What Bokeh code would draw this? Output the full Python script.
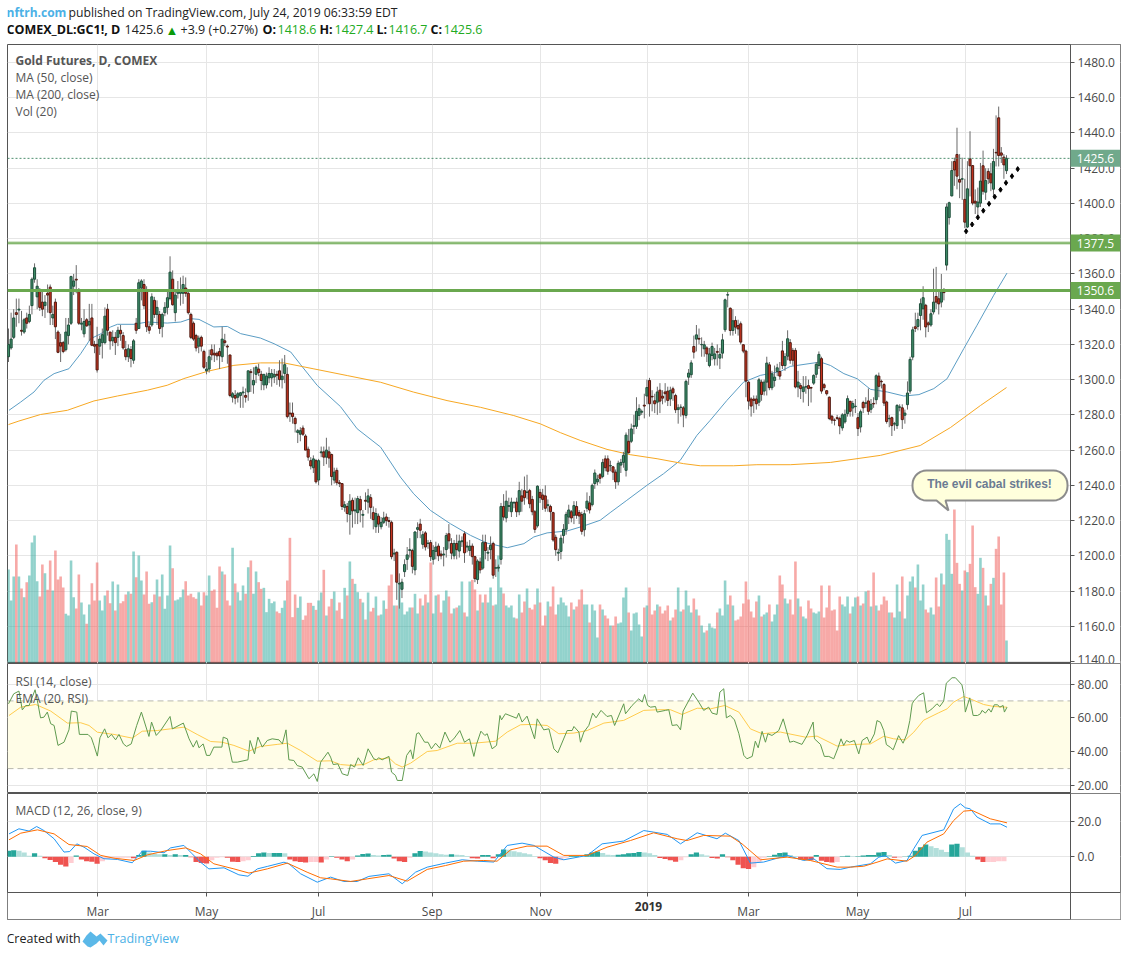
import numpy as np
from bokeh.plotting import figure
from bokeh.layouts import column
from bokeh.models import (Range1d, FixedTicker, Span, BoxAnnotation, Label,
                          PolyAnnotation, NumeralTickFormatter)
from bokeh.embed import file_html
from bokeh.resources import INLINE

# ---- daily bars, open / high / low / close
bars_jan_feb = [
 (1313,1329,1310,1320),(1318,1338,1317,1323),(1324,1340,1323,1335),(1338,1346,1330,1337),(1339.5,1346,1332,1340),
 (1328,1339,1325,1327.5),(1327,1335,1326,1334),(1335,1338,1329,1332),(1333,1342,1332,1337),(1342,1358,1337,1357),
 (1357,1366,1355,1363.5),(1347,1357,1340,1353),(1350,1352,1339,1341),(1344,1350,1336,1340),(1342,1348,1335,1344),
 (1349,1354,1338,1348),(1352.5,1354,1331,1338),(1335,1342,1331,1337),(1344,1346,1323,1330),(1327,1328,1315,1315.5),
 (1321,1326,1310,1319),(1321,1322,1315,1316),(1317,1335,1316,1327),(1325,1335,1320,1331),(1332,1359,1331,1358.5),
 (1353,1360,1348,1356),(1357,1365,1349,1356.5),(1350,1352,1331,1332),(1331.5,1335,1328,1332),(1326,1340,1324,1333),
 (1334,1335,1330,1330.5),(1331,1343,1322,1333),(1335,1343,1319,1319.5),(1320,1322,1315,1319)]
bars_mar_apr = [
 (1320,1330,1304,1305.5),(1319,1325,1314,1323),(1321,1329,1312,1325.5),(1321,1341,1320,1336),(1340,1343,1325,1328),
 (1327,1327,1317,1322),(1322,1328,1319,1324),(1324,1327,1314,1321),(1324,1330,1319,1328),(1328,1331,1322,1326),
 (1325,1327,1317,1318),(1317,1322,1311,1313),(1313,1320,1310,1317.5),(1317,1319,1307,1312),(1311,1323,1309,1322),
 (1332,1335,1326,1328),(1329,1357,1329,1355),(1352,1357,1345,1356),(1354,1357,1340,1342),(1350,1353,1327,1330),
 (1330,1332,1326,1328),(1331,1349,1330,1347),(1345,1347,1335,1337),(1337,1345,1331,1341),(1337,1339,1326,1329),
 (1330,1338,1324,1337),(1338,1344,1336,1341),(1341,1350,1337,1346.5),(1346,1370,1345,1361),(1357,1362,1342,1342.5),
 (1338,1351,1333,1348),(1349,1356,1346,1351),(1349,1358,1342,1350),(1349,1359,1343,1354),(1352,1358,1347,1349),
 (1349,1350,1337,1338),(1337,1338,1323,1324),(1332,1333,1322,1323),(1325,1326,1316,1318),(1319,1325,1315,1323.5),
 (1324,1325,1316,1319),(1316,1317,1306,1307)]
bars_may_jun = [
 (1305,1310,1303,1306),(1306,1317,1304,1313),(1317,1320,1311,1314),(1315,1320,1310,1314),(1315,1316,1311,1313.5),
 (1316,1318,1306,1313.5),(1313,1330,1310,1323),(1322,1326,1319,1321),(1319,1320,1309,1318.5),(1314,1314,1290,1291),
 (1290,1293,1287,1292),(1291,1294,1286,1289.5),(1290,1293,1287,1292),(1291,1293,1284,1292.5),(1292.5,1296,1284,1293),
 (1291,1295,1287,1290),(1293,1305,1288,1305),(1304.5,1306,1293,1304),(1297,1307,1292,1299.5),(1303,1308,1298,1307),
 (1306,1309,1302,1304),(1303,1305,1294,1299.5),(1297,1303,1294,1303),(1297,1304,1295,1302),(1301,1307,1298,1303.5),
 (1301,1306,1296,1303.5),(1301.5,1306,1298,1303),(1303,1305,1297,1302.5),(1305,1311,1296,1300),(1300,1312,1295,1302),
 (1303.5,1314,1298,1308.5),(1303,1307,1278,1279),(1281,1287,1276,1280.5),(1281,1287,1275,1279),(1278,1279,1270,1275),
 (1270,1272,1264,1271),(1269,1273,1265,1271),(1272.5,1274,1268,1269),(1268,1269,1260,1260),(1260.5,1262,1254,1256),
 (1254,1256,1249,1251),(1250,1257,1247,1255),(1254,1255,1241,1242)]
bars_jul_aug = [
 (1243,1255,1240,1254),(1258.5,1262,1256,1259),(1259,1262,1251,1256),(1256,1267,1252,1260),(1259,1262,1250,1255.5),
 (1257.5,1258,1240,1245),(1243,1250,1241,1247.5),(1248.5,1250,1240,1241.5),(1241.5,1243,1239,1241),(1241,1241,1226,1228),
 (1227.5,1231,1225,1229),(1228,1230,1219,1224),(1223.5,1235,1212,1231),(1231.5,1233,1216,1225.5),(1225.5,1233,1218,1226),
 (1224.5,1234,1218,1232.5),(1232,1234,1219,1226),(1223,1226,1216,1223.5),(1231.5,1236,1226,1231),(1230.5,1238,1224,1234),
 (1233,1235,1221,1227.5),(1224.5,1228,1215,1220.5),(1216.5,1227,1213,1224),(1222.5,1224,1213,1218),(1216.5,1222,1215,1219),
 (1219,1225,1218,1221.5),(1222,1224,1217,1220),(1220,1222,1216,1219.5),(1219,1220,1198,1199.5),(1201,1204,1197,1201.5),
 (1202,1202.5,1175,1185),(1184,1190,1170,1184.5),(1181,1187,1176,1185),(1191,1198,1188,1195),(1198,1205,1192,1200.5),
 (1203,1210,1199,1203.5),(1203,1204,1190,1194),(1192,1214,1189,1213.5),(1215,1219,1210,1216),(1218,1221,1210,1214.5),
 (1206.5,1214,1204,1212),(1213,1214,1203,1205),(1207,1209,1204,1207.2),(1207.5,1209,1197,1199.5)]
bars_sep_oct = [
 (1198,1206,1195,1203),(1202.5,1208,1198,1205),(1205.5,1207,1197,1200),(1201,1203,1198,1200),(1200.5,1205,1194,1201),
 (1203.5,1213,1199,1211.5),(1212.5,1218,1204,1208.5),(1207,1210,1198,1201.5),(1200,1209,1198,1207),(1207,1212,1198,1203.5),
 (1202.7,1212,1199,1208.3),(1208,1211,1205,1208.5),(1212.5,1214,1196,1201.7),(1205,1208,1202,1205.5),(1203,1209,1200,1205.5),
 (1205.5,1207,1195,1199.5),(1199.5,1200,1185,1187),(1186.5,1198,1184,1197),(1196.5,1199,1190,1192),(1193,1212,1192,1207.5),
 (1207.5,1212,1198,1203),(1201.5,1205,1197,1202),(1203.5,1211,1198,1206),(1207,1208,1187,1189),(1193,1198,1188,1193.2),
 (1193,1195,1191,1193.5),(1198,1230,1195,1228),(1228,1235,1220,1222),(1221.5,1237,1219,1231),(1228,1233,1225,1228.5),
 (1225,1233,1222,1230.5),(1230,1231,1227,1230.2),(1230.5,1233,1222,1225),(1225,1242,1223,1237),(1234,1238,1225,1231),
 (1237,1245,1229,1233),(1236,1246,1232,1236.2),(1237,1238,1227,1229.5),(1232,1234,1223,1225),(1225,1226,1213,1215),
 (1217,1240,1216,1239.5),(1236,1238,1230,1233)]
bars_nov_dec = [
 (1234.5,1238,1226,1232),(1234,1240,1225,1227),(1228.5,1232,1225,1229),(1228,1229,1220,1225),(1224.5,1225,1208,1209),
 (1210.5,1212,1200,1203.5),(1201.5,1204,1197,1202),(1202.5,1212,1198,1210),(1211.5,1218,1207,1215),(1215,1225,1212,1223.5),
 (1222,1229,1218,1226),(1225,1226,1219,1221.5),(1223,1231,1218,1228.5),(1228,1231,1221,1223),(1224.5,1226,1218,1222.6),
 (1223.4,1225,1212,1213.9),(1214.8,1226,1211,1223.9),(1227,1236,1225,1231),(1230,1234,1224,1226),(1229,1241,1228,1240),
 (1241,1249,1238,1247),(1242,1246,1240,1243.5),(1246,1247,1241,1244),(1245,1255,1244,1253),(1255,1257,1248,1250),
 (1255,1257,1246,1248),(1251,1254,1248,1251.2),(1250.5,1251,1243,1247.5),(1247.5,1249,1238,1242),(1242,1254,1240,1252.5),
 (1251.5,1255,1247,1253),(1253,1259,1250,1257),(1248.5,1270,1245,1268.5),(1265,1272,1258,1258.5),(1265,1275,1264,1272),
 (1273.5,1280,1269,1273.8),(1273.5,1290,1272,1282),(1279.7,1286,1277,1283.5),(1281.5,1283,1280,1282),(1285.5,1292,1278,1285),
 (1290.7,1300,1286,1295.5)]
bars_jan_feb_19 = [
 (1299.5,1301,1279,1286.3),(1290.5,1294,1282,1290.2),(1288,1292,1281,1286.3),(1287.2,1296,1280,1293),(1294,1298,1281,1287.8),
 (1290.6,1294,1286,1289.5),(1293,1298,1287,1292),(1293.5,1296,1285,1288.2),(1289,1296,1285,1293.9),(1294.8,1296,1288,1292.5),
 (1291,1292,1281,1282.9),(1283,1286,1275,1284),(1284.2,1286,1279,1284.4),(1284,1285,1273,1280),(1279.7,1300,1278,1299),
 (1301.4,1306,1297,1303.7),(1302.8,1311,1301,1309.5),(1318.8,1325,1312,1315.6),(1323,1331,1316,1325.4),(1323.4,1329,1320,1323),
 (1319.8,1324,1313,1320),(1317.5,1322,1313,1319.8),(1318,1319,1310,1314.6),(1308,1318,1307,1314.6),(1313.7,1321,1311,1318.8),
 (1311.8,1318,1308,1314.6),(1316,1320,1308,1315.5),(1312.2,1318,1306,1314.3),(1315,1326,1312,1322.6),(1328.3,1346,1327,1345.3),
 (1348,1351,1341,1348.2),(1340.5,1341,1325,1327.9),(1327.9,1340,1325,1333.4),(1333.6,1336,1326,1329.8),(1330.7,1334,1325,1328.8),
 (1331.7,1333,1320,1321.3),(1319.8,1320,1315,1316.2),(1316.2,1317,1290,1299.2)]
bars_mar_apr_19 = [
 (1298.6,1299,1283,1287.8),(1289,1290,1279,1285),(1289,1291,1281,1288.2),(1289,1291,1283,1286.3),(1287.2,1301,1285,1299.9),
 (1298.6,1300,1288,1291.6),(1293.5,1300,1291,1298.6),(1298.6,1313,1291,1309.4),(1308.4,1310,1294,1295.4),(1295.4,1305,1294,1303.3),
 (1299.5,1308,1296,1301.4),(1304.6,1309,1302,1306.7),(1304.6,1310,1300,1302),(1316.3,1322,1306,1308),(1308,1315,1305,1313),
 (1313.3,1328,1311,1323.2),(1321,1323,1309,1311),(1316.6,1318,1308,1311),(1316.6,1318,1295,1295.8),(1295.8,1305,1290,1298.6),
 (1296.6,1298,1289,1294.9),(1293.2,1302,1287,1295.8),(1295.8,1302,1292,1296),(1296.6,1300,1285,1294.9),(1295.5,1296,1287,1295.2),
 (1298,1303,1297,1302.4),(1303,1310,1301,1308.7),(1308,1316,1306,1314.3),(1311.9,1313,1292,1293.5),(1297.1,1298,1294,1295.4),
 (1293.7,1294,1291,1292),(1290,1290.5,1277,1277.9),(1279.2,1280,1275,1277),(1277,1278,1274,1276.9),(1278.4,1280,1277,1278),
 (1278,1279,1269,1273.7),(1272.6,1281,1271,1280),(1276,1283,1275,1280.3),(1280.7,1291,1279,1289.2),(1287.7,1288,1279,1282),
 (1283.9,1288,1279,1286.4),(1284.7,1289,1281,1284.9)]
bars_may_jul_19 = [
 (1278.4,1281,1268,1272.2),(1273.1,1283,1270,1281.8),(1287,1288,1281,1284),(1286.6,1290,1284,1286.8),(1287.9,1295,1280,1282),
 (1283.2,1289,1281,1286),(1286.5,1290,1284,1286.2),(1288.6,1303,1286,1302.2),(1302,1304,1290,1296.2),(1299,1300,1295,1298.8),
 (1297.2,1298,1285,1286.7),(1287.3,1288,1275,1276.2),(1277.8,1280,1273,1278),(1278.4,1279,1268,1273.9),(1274.8,1276,1271,1275),
 (1273.9,1286,1272,1285.4),(1284.3,1286,1282,1284.5),(1284,1286,1272,1277.3),(1279.8,1283,1275,1281),(1285.8,1299,1283,1292.4),
 (1293.5,1313,1292,1311.5),(1312.8,1330,1311,1328.3),(1330,1338,1327,1329),(1330.2,1338,1328,1334.1),(1336.4,1346,1328,1343.1),
 (1340.2,1353,1334,1346.5),(1342.2,1343,1324,1329.9),(1332.2,1333,1327,1331.1),(1331,1340,1330,1337.4),(1338.4,1363,1337,1344),
 (1347.2,1364,1340,1344),(1345.9,1350,1337,1343),(1344,1360,1341,1350),(1350.6,1352,1345,1349.4),(1365,1400,1362,1398),
 (1392,1401,1388,1400.4),(1404.3,1424,1404,1418.7),(1423.8,1426,1410,1419),(1427.8,1443,1408,1415.5),(1413.6,1428,1403,1412.1),
 (1413.8,1426,1402,1414),(1402.3,1414,1386,1389.4),(1386.6,1424,1386,1408.3),(1425.3,1441,1404,1421.4),(1421.5,1421.5,1399,1400.2),
 (1401.3,1408,1394,1400.2),(1398,1409,1393,1400.8),(1400.2,1423,1398,1412.7),(1421.4,1430,1405,1407),(1406.4,1420,1402,1413),
 (1418.2,1420,1411,1414),(1416.8,1423,1407,1411.7),(1408.1,1431,1403,1423.8),(1429,1450,1421,1428.7),(1448.6,1455,1421,1427.2),
 (1428.7,1432,1423,1427.4),(1426.3,1428,1414,1421.9),(1418.6,1427.4,1416.7,1425.6)]

# ---- volume, thousand contracts
volumes = [
 279,186,258,354,258,222,196,241,261,360, 381,244,198,294,268,218,306,216,336,249,
 258,225,146,141,306,196,162,264,180,144, 116,174,238,186,300,186,156,201,216,178,
 243,156,234,178,184,204,213,206,333,256, 321,246,204,273,176,181,204,249,198,264,
 161,201,351,283,186,189,196,219,244,201, 206,196,191,211,171,211,201,261,215,219,
 164,288,273,264,186,171,344,237,211,186, 231,206,286,306,206,273,241,221,224,151,
 191,178,183,153,148,164,186,246,374,136, 204,164,198,128,141,179,179,170,158,186,
 210,278,141,168,191,213,156,180,131,224, 201,303,251,236,211,191,180,129,210,153,
 164,198,141,144,186,161,231,264,171,171, 236,180,144,153,165,165,206,147,192,171,
 204,180,300,147,201,204,150,186,216,198, 147,162,165,171,243,150,138,243,248,219,
 156,204,180,204,180,225,171,174,321,225, 207,171,
 165,171,135,132,204,150,183,222,164,159, 174,222,180,111,141,183,168,228,144,174,
 195,180,171,138,180,159,168,189,219,174, 174,120,174,156,75,174,159,141,132,111,
 111,138,117,120,195,225,150,96,147,150, 114,78,165,171,225,144,156,174,168,147,
 156,171,126,135,159,225,153,159,216,171, 150,192,159,141,111,90,96,117,105,102,
 150,162,141,246,174,201,171,126,129,138, 177,243,189,153,135,183,201,138,144,150,
 174,123,144,174,261,234,192,177,189,144, 303,192,168,138,132,186,162,150,147,153,
 231,135,165,231,156,159,96,198,174,168, 198,147,168,195,198,171,177,213,216,168,
 270,171,156,174,198,186,150,150,135,234, 153,258,132,201,243,258,225,294,186,234,
 159,150,165,144,255,168,267,234,
 386,368,266,459,299,236,216,276,271,296,411,226,206,314,284,201,171,236,254,341,378,174,270,66]

# ---- moving averages (bar index, price)
ma50_idx = [0.2,4.7,9.8,13.6,17.5,23.2,27.7,31.5,35.4,39.2,41.8,48.2,53.3,60.9,66.1,69.9,73.1,78.8,84,89.1,96.7,101.9,108.3,112.1,
 118.5,127.4,133.8,142.8,150.4,155.5,161.9,169.6,177.3,183.7,191.4,197.8,201.6,206.7,214.4,220.7,227.1,230.9,237.3,245,251.4,257.8,
 264.2,269.3,275.7,282.1,288.5,296.2,300,311.6,315.5,320.6,325.7,330.8,337.2,343.6,349.4,355.1,360.2,366.6,371.7,378.1,383.2]
ma50_val = [1282.6,1287.3,1293,1299.6,1303.4,1306.2,1314.7,1323.2,1326,1329.9,1331.4,1331.4,1332.7,1332.1,1332.7,1334.6,1334.2,1329.9,1330.2,1326.1,1323.6,1320.4,1315.7,1308.5,
 1296.7,1284.7,1272.1,1261.7,1244.7,1235.2,1225.8,1218.2,1211.6,1207.2,1204.6,1206.9,1210.7,1213,1214.1,1216.9,1220.2,1224.5,1231.5,1240,1246.6,1254.2,
 1268.4,1276.9,1288.2,1298.6,1302.4,1304.6,1307.5,1310,1308,1303.4,1300.5,1294.5,1293,1290.7,1291.5,1294.9,1300.5,1317.6,1330.9,1347.9,1360.5]
ma200_idx = [0,4,12.3,22.6,32.8,41.8,53.3,60.9,67.3,76.3,86.5,96.7,105.7,117.2,130,142.8,155.5,168.3,181.1,193.9,204.1,211.8,219.4,229.7,238.6,248.9,259.1,265.5,278.3,287.2,300,315.4,334.6,349.9,361.5,373,383]
ma200_val = [1274.5,1276.5,1280.2,1282.6,1287.9,1290.7,1294,1296.8,1300.6,1304.7,1308.1,1309.5,1309.5,1306.1,1302.3,1298.5,1292.9,1288.1,1284.3,1279.6,1274.9,1269.9,1265.5,1260.4,1257.4,1255.1,1252.3,1251.1,1251.1,1251.7,1251.7,1253,1257,1262.6,1272.8,1285.3,1295.5]

# ---- hand-drawn trend line of dots
dots_idx = [367.5,369.8,372,374.1,376.3,378.5,380.7,382.8,385.1,387.3]
dots_val = [1384.2,1388.1,1392.1,1395.9,1399.8,1403.8,1407.8,1411.7,1415.5,1419.5]

# ---- RSI (14) and its EMA (20)
rsi_idx = [0,2,4,5.3,6.6,7.9,10.2,11.3,12.3,13.6,14.9,16.2,17.5,19,21.3,23.2,24.1,26.2,27.2,30.5,31.8,32.8,34.1,35.1,36.9,38.2,39.5,41.1,42.4,44.1,45.3,47.1,49.2,51,53.9,54.9,56.7,58.4,62,62.9,67.1,69.3,70.9,72.2,73.1,74.7,76,77.3,78.8,81.9,82.4,84,85.9,87.8,91.9,92.7,94.4,95.7,97.4,99.3,101.2,103.8,105.1,106.5,107.6,109.5,110.8,112.7,115.3,117.2,118.5,119.8,122.6,
 123.6,124.6,126.4,128.1,130.2,131.3,132.8,134.2,136.1,138,140.2,141.2,142.1,143.4,146,147,148.5,149.2,151.1,152.8,154.3,155.2,156.6,157.5,159.7,161,162.3,163.9,165.5,167.5,169.4,170.9,173.2,175,176.9,178.6,179.6,181.3,182.8,183.7,185.6,187.3,188.6,189.2,190.7,195,195.8,197.1,199,201.9,202.9,205.4,207.4,209.3,210.8,214.4,216.3,217,218.9,219.5,220.8,222.7,224.2,225.5,227.4,229.7,231.4,232.6,236.1,236.8,239.3,241.9,243.2,244.1,245.3,246.4,248.3,248.9,252.1,253.4,254.7,256.6,257.9,258.9,262.6,264.9,266.8,268.7,270,271.9,273,274.5,275.5,277,278.6,280.3,282.2,283.4,285.4,286.6,287.7,289.2,290.5,291.4,293,294.3,295.6,297.3,299.8,301.3,304.5,306.5,308.8,309.3,311.6,313.1,314.8,316.7,318.2,319.5,320.5,321.6,322.8,324.6,326.3,327.6,329.5,330.5,332.3,333.3,334.6,335.9,336.9,338.4,339.5,341.6,343.3,344.8,345.9,346.8,347.4,349.3,351.2,352.3,354.4,356.3,357.4,358.9,359.9,362.1,363.4,365.9,366.6,367.2,368.9,370.2,371.9,373,373.6,374.9,376.2,377.1,378.3,379.6,380.4,381.7,382.2,383.2]
rsi_val = [68.3,74.2,75.8,64.7,67.3,67.3,76.6,68.3,60,60.4,63.4,56.5,55.5,43.7,45.6,52.9,64,63.4,50.2,50.2,48.2,43.7,37.4,48.2,53.5,48.2,50.2,47,50.2,44.6,43.1,44.6,55.5,63.4,49,57.5,49.6,52.5,60.8,53.5,56.9,47.6,42.7,46.6,42.3,44.6,37.8,37.8,42.7,42.7,48.6,47.6,33.8,33.8,35.2,46.6,38.7,48.6,42.7,46.6,47.6,47,44.6,52.9,35.2,34.8,31.8,30.9,24,26.9,22.4,33.8,39.7,
 36.8,32.4,32.8,26.9,25.9,32.4,30.9,36.4,31.9,41.7,35.8,35.2,36.4,35.2,37.2,27.9,26,23,23,37.8,41.1,35.8,50.6,51.2,45.6,45.6,41.7,45,42.1,51.6,45.6,47.6,52.5,45.6,47.6,37.2,44.3,52.1,49.6,50.6,41.7,43.7,61.4,58.8,62.4,59.8,62.8,57.5,61,47.6,59.4,52.9,53.5,41.7,39.3,52.5,52.5,54.9,51.6,45.6,51.6,55.5,62.8,60,64.4,60.8,61.4,55.5,68.3,62.4,67.3,71.3,69.3,73.8,67.3,66.3,66.7,63.4,64.4,64.8,55.5,55.9,52.9,64,74.6,69.3,64.4,66.3,62.8,62,75.2,77.2,60,61.4,58.8,50.6,37.8,35.8,37.2,46.2,42.3,52,45.6,50.6,49.6,51,52.5,59.4,45.6,46.2,44.3,49.6,57.5,47.6,44.3,37.2,37.2,35.8,41.7,47.6,43.7,46.6,45.6,46.6,38.7,46.6,48.6,45,50.5,58.4,57.4,52.5,44.2,42.6,41.1,49.5,45,50.5,58.4,68.3,69.9,73.2,74.8,63,65.3,68.3,66.7,69.9,80.5,83.7,83.7,79.5,74.2,63.4,71.8,61.4,61.4,62.4,64.4,62.8,65.3,63.4,67.7,67.7,66.3,67.3,63.4,66.3]
ema_idx = [0.2,4.7,10.4,16.2,22.6,27.7,30.9,34.1,40.5,47.5,51.3,57.1,62.2,67.3,72.4,77.6,82,86.5,92.3,96.7,103.1,107,112.1,118.5,123.6,127.4,131.3,136.4,140.2,146,148.5,151.1,154.3,160.7,164.5,172.2,178.6,186.9,191.4,196.5,200.3,206.7,211.2,217,222.1,228.5,236.1,243.8,249.6,254,258.5,264.3,269.4,274.9,280.3,284.7,289.2,296.2,305.8,310.3,318,323.1,330.8,335.9,339.7,344.2,347.4,351.2,357,360.2,362.7,366.6,369.1,374.2,378.1,383.2]
ema_val = [61.4,66.3,67.9,64,56.9,57.1,55.5,51.5,50.2,48,52.1,52.5,53.5,54.5,50.2,46,45.6,43.7,40.3,43.1,44.3,45,40.7,34.4,34.6,32.4,31.9,32.4,35.2,36.4,32.8,30.9,33.2,40.1,40.7,45,45,46.2,51.6,55.9,56.1,55.5,50.6,51,52.5,56.9,58.5,64.4,64.8,64.8,62,65.7,65.3,67.3,63.4,53.5,50.6,51.6,48.6,49.2,43.3,44.2,44.6,49.1,47.6,47,51.5,58.6,63,65.3,69.3,72.6,71.2,67.9,66.7,66.3]

# ---- MACD (12, 26, 9)
macd_idx = [0.2,4,7.9,10.8,13.6,17.5,21.3,23.5,26.2,29,32.8,36.6,41.8,47.5,51.3,54.5,59.7,62.2,67.3,70.5,73.7,76.9,82.7,88.4,91.9,95.5,99.3,105.7,107.6,112.1,118.5,123.6,128.7,133.8,138.3,146,151.1,156.2,160.7,167.7,174.1,179.9,186.3,191.4,197.1,201.6,209.3,213.1,222.1,227.8,236.1,243.8,247.6,252.8,257.9,264.3,271.9,275.1,280.3,284.7,289.8,298.8,305.2,309,314.1,319.2,323.1,330.8,334,336.5,340.4,344.8,347.4,350.6,358.9,362.7,365.3,367.2,369.1,371.7,376.8,380.6,383.2]
macd_val = [13.1,16,14.7,17.3,15,10.3,2.7,3,7.4,5.5,1.7,-1.1,-1.5,-3.4,3.2,3.2,2.3,5.1,6.5,1.7,-3.1,-6.9,-6.3,-10.3,-11.1,-6.9,-5.5,-3.1,-4,-9.7,-14.5,-11.6,-14.1,-14.1,-11.2,-9.7,-15.4,-8.8,-5.9,-3.6,-1.7,-2.5,-3,6.5,7.8,6.5,-0.2,-1.7,0.8,7.4,9,15,14.1,12.8,7.4,13.7,10.3,13.5,9.3,-3.6,-3,0.8,-2.1,-1.1,-6.8,-7.2,-5.9,-4,-0.2,0.7,-3.6,-2.1,4.6,12.2,15.4,27.4,30.3,28,27.4,22.7,18.8,18.8,16.9]
signal_idx = [0.2,4.7,11.1,17.5,23.2,30.2,35.4,40.5,48.2,53.3,60.9,68,73.7,78.8,86.5,92.3,99.3,107,114.6,119.8,123.6,131.3,137.7,146,153,160.7,167.7,174.7,182.4,187.5,192.7,199,206.7,213.1,222.1,229.7,238.7,247.6,256.6,260.4,266.8,277,281.5,288.6,298.8,307.7,318,323.1,328.2,333.3,337.2,344.8,348,352.5,358.9,362.7,366.6,369.8,376.8,383.2]
signal_val = [9.7,13.5,15.4,13.1,7,5.9,0.8,-0.8,-2.1,1.1,3.6,5.1,1.7,-4,-6.9,-9.3,-6.9,-3.6,-8.8,-12,-12.6,-14.1,-12.6,-10.7,-13.9,-7.2,-5,-2.5,-2.1,-2.5,4,6.1,6.1,0.8,0.8,5.5,9.3,13.7,10.3,9.3,12.2,11.8,7.4,-1.7,-0.2,-2.1,-5.9,-5.9,-5.4,-3.1,-1.2,-2.5,0.7,8.4,13.1,20.7,26.1,26.5,21.7,19.4]
# histogram, one value for every second bar
histogram = [3.5,3.8,3.5,2.5,0.6,2,0.6,-0.8,-1.8,-3,-4.5,-5.5,-3.5,0.8,-1.5,-2.5,-2.8,-4,-2.5,-1.2,-0.8,-0.8,-0.6,-0.6,-0.8,1,3.5,2.5,1.8,1.5,1.5,1,1.5,1,1,-0.3,-3,-3.5,-3.8,-2,-0.5,-0.3,-0.5,-2.8,-3,-2.5,-2,0.5,2,2.5,2.2,2.2,2.2,2,-1.5,-2.5,-3,-3.2,-3,-3,-3.2,-1.5,0.3,-0.5,-1.5,-2.5,-1.5,
 0.8,1.6,1.9,1,0.8,1,1.2,-1,-2.5,-3,-0.5,2,3.3,3,2.5,2,1.5,1.2,1.5,1.2,1,0.4,-0.8,-1,1,1,-0.8,1.5,4.2,4,3.2,2.6,2,1.5,0.3,-0.8,-2,-3.5,-4,-2,-0.5,0.5,0.5,0.3,1.5,2.5,3,2.2,1.2,1,1.2,1.5,2,2.2,2.8,2.5,2,1,-0.7,-1.3,-2,-2.8,-2,-0.3,1.5,2.5,1.5,0.7,-0.7,-1,1.5,-0.3,-2,-4.5,-6.5,-7,-6,-3,-0.5,0.3,1.2,2.2,2.5,1,0.3,-1.5,-1.8,-2,1,-2.3,-3,-3.2,-3,0.3,0.6,0.3,
 0.3,0.7,1,1,2.5,2.8,1,-0.5,-0.5,0.2,0.6,3.5,5.5,7,6,5,4,2.7,7,7.5,5.5,2.5,0.6,-1.5,-3,-3,-3,-2.5,-2.5]

# ---- axes
price_ticks = [1140,1160,1180,1200,1220,1240,1260,1280,1300,1320,1340,1360,1380,1400,1420,1440,1460,1480]
rsi_ticks = [20,40,60,80]
macd_ticks = [0,20]
month_ticks = [34.2,76,119,162.6,204.2,245.3,284,325.8,367.2]
month_labels = ["Mar","May","Jul","Sep","Nov","2019","Mar","May","Jul"]
levels = [1377.5,1350.6]
last_close = 1425.6
rsi_band = [30,70]

FONT = "Open Sans"
GRID = "#e6e6e6"
BORDER = "#555555"
AXT = "#4a4a4a"
W = 1127
X0, XR, XE = 7, 1070, 1120

bars = np.array(bars_jan_feb + bars_mar_apr + bars_may_jun + bars_jul_aug + bars_sep_oct +
                bars_nov_dec + bars_jan_feb_19 + bars_mar_apr_19 + bars_may_jul_19, dtype=float)
o, h, l, c = bars.T
n = len(bars)
assert len(volumes) == n
x = np.arange(n)
up = c >= o

step = 998.0 / (n - 1)             # pixels per bar
x_left, x_scale, x_right = (X0 - 8) / step, (XR - 8) / step, (XE - 8) / step
xr = Range1d(x_left, x_right)


def make(height, ymin, ymax, top=0, bottom=0):
    f = figure(width=W, height=height, x_range=xr, y_range=Range1d(ymin, ymax),
               output_backend="svg", toolbar_location=None, y_axis_location="right",
               min_border_left=X0, min_border_right=W - XE, min_border_top=top, min_border_bottom=bottom,
               background_fill_color="white", border_fill_color="white", outline_line_color=BORDER)
    f.outline_line_width = 1
    f.xgrid.ticker = FixedTicker(ticks=month_ticks)
    f.xgrid.grid_line_color = GRID
    f.ygrid.grid_line_color = GRID
    # the price scale lives inside the frame: a white strip hides the grid behind it
    f.quad(left=x_scale, right=x_right, top=ymax, bottom=ymin, fill_color="white", line_color=None)
    ax = f.yaxis[0]
    ax.fixed_location = x_scale
    ax.axis_line_color = BORDER
    ax.major_tick_in = 0
    ax.major_tick_out = 4
    ax.minor_tick_line_color = None
    ax.major_tick_line_color = BORDER
    ax.major_label_text_font = FONT
    ax.major_label_text_font_size = "12px"
    ax.major_label_text_color = AXT
    ax.major_label_standoff = 3
    return f


def txt(f, x_, y_, s, size=12, color="#555555", bold=False, align="left", font=FONT, xu="canvas", yu="canvas", **kw):
    f.add_layout(Label(x=x_, y=y_, x_units=xu, y_units=yu, text=s, text_font=font,
                       text_font_size=f"{size}px", text_color=color, text_align=align,
                       text_baseline="middle", text_font_style="bold" if bold else "normal", **kw))


def blank(height):
    f = figure(width=W, height=height, output_backend="svg", toolbar_location=None,
               x_range=Range1d(0, 1), y_range=Range1d(0, 1),
               min_border_left=0, min_border_right=0, min_border_top=0, min_border_bottom=0,
               outline_line_color=None, background_fill_color="white", border_fill_color="white")
    f.axis.visible = False
    f.grid.visible = False
    return f


def poly(f, xs, ys, fill=None, line=None, width=1, yu="canvas"):
    f.add_layout(PolyAnnotation(xs=list(xs), ys=list(ys), xs_units="canvas", ys_units=yu,
                                fill_color=fill or "white", fill_alpha=1 if fill else 0,
                                line_color=line, line_alpha=1, line_width=width))


# ---- header
head = blank(43)
txt(head, 6, 12, "nftrh.com", 12, "#4cb1e6", True)
txt(head, 68, 12, "published on TradingView.com, July 24, 2019 06:33:59 EDT", 12.2, "#222222")
txt(head, 6, 29, "COMEX_DL:GC1!, D", 12.5, "#111111", True)
txt(head, 124, 29, "1425.6", 12.5, "#222222")
txt(head, 165, 29, "▲", 13, "#0a9a0a")
txt(head, 180, 29, "+3.9 (+0.27%)", 12.5, "#222222")
for lx, vx, lab, val in [(262, 277, "O:", "1418.6"), (319, 334, "H:", "1427.4"),
                         (376, 388, "L:", "1416.7"), (430, 443, "C:", "1425.6")]:
    txt(head, lx, 29, lab, 12.5, "#111111", True)
    txt(head, vx, 29, val, 12.5, "#22ab22")

# ---- main pane
PX = 1.7617
main = make(620, 1140 + (661 - 663) / PX, 1140 + (661 - 44) / PX, top=1)
main.xaxis.visible = False
main.yaxis[0].ticker = FixedTicker(ticks=price_ticks)
main.yaxis[0].formatter = NumeralTickFormatter(format="0.0")
main.extra_y_ranges = {"vol": Range1d(-3, 618 * 3)}
main.vbar(x=x, top=volumes, bottom=0, width=1.0, y_range_name="vol", line_color=None,
          fill_color=["#26a69a" if u else "#ef5350" for u in up], fill_alpha=0.5)
main.line(ma50_idx, ma50_val, line_color="#5b9dc4", line_width=1)
main.line(ma200_idx, ma200_val, line_color="#f7a823", line_width=1)
main.segment(x, h, x, l, line_color="#6a6a6a", line_width=1)
main.vbar(x=x, top=np.maximum(o, c), bottom=np.minimum(o, c), width=0.8,
          fill_color=["#3d8b66" if u else "#c8341f" for u in up],
          line_color=["#1f4f3c" if u else "#4f1b12" for u in up], line_width=1)
main.scatter(dots_idx, dots_val, marker="diamond", size=5, color="black")
main.line([x_left, x_scale], [levels[0]] * 2, line_color="#6aa84f", line_width=3, line_alpha=0.55)
main.line([x_left, x_scale], [levels[0]] * 2, line_color="#6aa84f", line_width=1)
main.line([x_left, x_scale], [levels[1]] * 2, line_color="#6aa84f", line_width=3)
main.line([x_left, x_scale], [last_close] * 2, line_color="#4f8f6f", line_width=1, line_dash="2 2")
for val, col in [(last_close, "#70a98b"), (levels[0], "#6aa84f"), (levels[1], "#6aa84f")]:
    poly(main, [XR, XE, XE, XR], [val + 8.5 / PX, val + 8.5 / PX, val - 8.5 / PX, val - 8.5 / PX], fill=col, yu="data")
    txt(main, 1095, val, f"{val:.1f}", 12, "white", False, "center", yu="data")
txt(main, 15, 17, "Gold Futures, D, COMEX", 12, "#555555", True)
txt(main, 15, 34, "MA (50, close)")
txt(main, 15, 51, "MA (200, close)")
txt(main, 15, 68, "Vol (20)")

# speech bubble
bl, br, bt, bb, r_ = 912, 1067, 470 - 43, 500 - 43, 14
th = np.linspace(0, np.pi / 2, 8)
bx, by = [], []
for cx, cy, a0 in [(br - r_, bt + r_, -np.pi / 2), (br - r_, bb - r_, 0)]:
    bx += list(cx + r_ * np.cos(a0 + th))
    by += list(cy + r_ * np.sin(a0 + th))
bx += [945, 948, 936]
by += [bb, 510 - 43, bb]
for cx, cy, a0 in [(bl + r_, bb - r_, np.pi / 2), (bl + r_, bt + r_, np.pi)]:
    bx += list(cx + r_ * np.cos(a0 + th))
    by += list(cy + r_ * np.sin(a0 + th))
poly(main, bx, by, fill="#ffffdc", line="#8c8c8c", width=2)
txt(main, 989, 483 - 43, "The evil cabal strikes!", 12, "#6b7b93", True, "center", font="Liberation Sans")

# ---- RSI pane
RP = 1.692
rsi = make(130, 80 - (793 - 683.5) / RP, 80 + (683.5 - 663) / RP)
rsi.xaxis.visible = False
rsi.yaxis[0].ticker = FixedTicker(ticks=rsi_ticks)
rsi.yaxis[0].formatter = NumeralTickFormatter(format="0.00")
rsi.add_layout(BoxAnnotation(bottom=rsi_band[0], top=rsi_band[1], right=x_scale, fill_color="#fffde7", fill_alpha=1, line_color=None, level="underlay"))
for v in rsi_band:
    rsi.line([x_left, x_scale], [v, v], line_color="#b9b9ad", line_width=1, line_dash="6 4")
rsi.line(ema_idx, ema_val, line_color="#ffcb4d", line_width=1)
rsi.line(rsi_idx, rsi_val, line_color="#5f9a4f", line_width=1)
txt(rsi, 15, 18, "RSI (14, close)")
txt(rsi, 15, 35, "EMA (20, RSI)")

# ---- MACD pane, its frame runs down over the time scale
MP = 1.75
macd_floor = -(892 - 856.3) / MP
macd_bottom = -(919 - 856.3) / MP
macd = make(127, macd_bottom, (856.3 - 793) / MP, bottom=1)
macd.quad(left=x_left, right=x_right, top=macd_floor, bottom=macd_bottom, fill_color="white", line_color=None)
macd.yaxis[0].ticker = FixedTicker(ticks=macd_ticks)
macd.yaxis[0].formatter = NumeralTickFormatter(format="0.0")
hx = np.arange(len(histogram)) * 2
hv = np.array(histogram)
hprev = np.r_[hv[0], hv[:-1]]
hcol = []
for a, b in zip(hv, hprev):
    if a >= 0:
        hcol.append("#26a69a" if a >= b else "#b2dfdb")
    else:
        hcol.append("#ef5350" if a < b else "#ffcdd2")
macd.vbar(x=hx, top=hv, bottom=0, width=2, fill_color=hcol, line_color=None)
macd.line(macd_idx, macd_val, line_color="#2196f3", line_width=1)
macd.line(signal_idx, signal_val, line_color="#ff6d00", line_width=1)
xa = macd.xaxis[0]
xa.fixed_location = macd_floor
xa.ticker = FixedTicker(ticks=month_ticks)
xa.major_label_overrides = {t: (" " if s == "2019" else s) for t, s in zip(month_ticks, month_labels)}
xa.axis_line_color = BORDER
xa.major_tick_in = 0
xa.major_tick_out = 4
xa.major_tick_line_color = BORDER
xa.minor_tick_line_color = None
xa.major_label_text_font = FONT
xa.major_label_text_font_size = "12px"
xa.major_label_text_color = AXT
xa.major_label_standoff = 6
txt(macd, 15, 17, "MACD (12, 26, close, 9)")
txt(macd, 648, 113, "2019", 12, "#333333", True, "center")

# ---- footer
foot = blank(30)
txt(foot, 6, 18, "Created with", 12.5, "#222222")
logo_x = [82, 86, 90, 96, 100, 103, 107, 103, 99, 96, 90, 87]
logo_y = [21, 15, 11, 16, 13, 16, 20, 25, 20, 23, 27, 26]
poly(foot, logo_x, logo_y, fill="#5bb8e8")
txt(foot, 107, 18, "TradingView", 12.5, "#4cb1e6")

page = column(head, main, rsi, macd, foot, spacing=0)
open("out.html", "w").write(file_html(page, INLINE))
